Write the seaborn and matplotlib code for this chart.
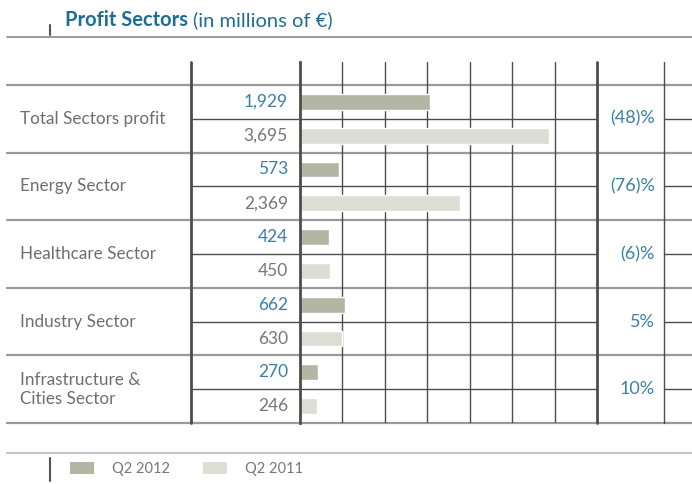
import pandas as pd
import numpy as np
import seaborn as sns
import matplotlib.pyplot as plt

sectors = ['Total Sectors profit', 'Energy Sector', 'Healthcare Sector',
           'Industry Sector', 'Infrastructure &\nCities Sector']
q2_2012 = [1929, 573, 424, 662, 270]
q2_2011 = [3695, 2369, 450, 630, 246]
changes = ['(48)%', '(76)%', '(6)%', '5%', '10%']
years = ['Q2 2012', 'Q2 2011']

blue = '#3a80a6'
title_blue = '#1f6d92'
grey_txt = '#767676'
line_dark = '#4d4d4d'
line_grey = '#9a9a9a'
colors = {'Q2 2012': '#b3b5a5', 'Q2 2011': '#dcded6'}

# long table, one row per (sector, year)
rows = []
for s, a, b in zip(sectors, q2_2012, q2_2011):
    rows.append({'row': s + ' 2012', 'year': 'Q2 2012', 'value': a})
    rows.append({'row': s + ' 2011', 'year': 'Q2 2011', 'value': b})
df = pd.DataFrame(rows)

sns.set_style('white')
plt.rcParams['font.family'] = ['Lato', 'DejaVu Sans']

W, H = 692, 484
fig = plt.figure(figsize=(W / 100, H / 100), dpi=100)

# layout in pixels
hdr_top, row_top, row_bot = 62, 85, 423
x_left, x_lab, x_bar0, x_bar1, x_pct, x_right = 191, 288, 300, 597, 664, 692
sub_h = (row_bot - row_top) / len(df)

# background axes in pixel coords for table frame and labels
bg = fig.add_axes([0, 0, 1, 1])
bg.set_xlim(0, W)
bg.set_ylim(H, 0)
bg.axis('off')

# bar axes
ax = fig.add_axes([x_bar0 / W, 1 - row_bot / H, (x_bar1 - x_bar0) / W, (row_bot - hdr_top) / H])
ax.patch.set_alpha(0)
sns.barplot(data=df, x='value', y='row', hue='year', dodge=False, width=0.47,
            palette=colors, orient='h', legend=False, ax=ax, saturation=1)
step = 630
ax.set_xlim(0, step * 7)
ax.set_ylim(len(df) - 0.5, -0.5 - (row_top - hdr_top) / sub_h)
ax.set_xticks(np.arange(step, step * 7, step))
ax.grid(axis='x', color=line_dark, linewidth=1)
ax.set_axisbelow(True)
ax.tick_params(left=False, bottom=False, labelleft=False, labelbottom=False)
ax.set_xlabel('')
ax.set_ylabel('')
for sp in ['top', 'bottom', 'right']:
    ax.spines[sp].set_visible(False)
ax.spines['left'].set_color(line_dark)
ax.spines['left'].set_linewidth(2)

# frame lines
bg.plot([7, W], [37, 37], color='#8a8a8a', lw=1.2)
bg.plot([50, 50], [25, 35], color='#555555', lw=1.5)
for x in [x_left, x_bar1]:
    bg.plot([x, x], [hdr_top, row_bot], color=line_dark, lw=2)
bg.plot([x_pct, x_pct], [hdr_top, row_bot], color=line_dark, lw=1)
for i in range(len(df) + 1):
    y = row_top + i * sub_h
    if i % 2 == 0:
        bg.plot([7, W], [y, y], color=line_grey, lw=1.6, zorder=0)
    else:
        bg.plot([x_left, x_bar1], [y, y], color=line_dark, lw=1, zorder=0)
        bg.plot([x_pct, W], [y, y], color=line_dark, lw=1, zorder=0)

# texts
for i, (s, a, b, c) in enumerate(zip(sectors, q2_2012, q2_2011, changes)):
    y0 = row_top + (2 * i + 0.5) * sub_h
    y1 = row_top + (2 * i + 1.5) * sub_h
    ym = row_top + (2 * i + 1) * sub_h
    bg.text(20, ym, s, ha='left', va='center', fontsize=12.3, color='#6e6e6e', linespacing=1.2)
    bg.text(x_lab, y0, f'{a:,}', ha='right', va='center', fontsize=12.5, color=blue)
    bg.text(x_lab, y1, f'{b:,}', ha='right', va='center', fontsize=12.5, color=grey_txt)
    bg.text(655, ym, c, ha='right', va='center', fontsize=13, color=blue)

# title
t1 = bg.text(65, 20, 'Profit Sectors', ha='left', va='center', fontsize=14.5,
             fontweight='bold', color=title_blue)
fig.canvas.draw()
bb = t1.get_window_extent()
bg.text(bb.x1 + 5, 20, '(in millions of €)', ha='left', va='center', fontsize=14.5,
        color=title_blue)

# legend
bg.plot([7, W], [453, 453], color='#c4c4c4', lw=1.5)
bg.plot([50, 50], [458, 481], color='#555555', lw=1.5)
for x0, lab in zip([70, 203], years):
    bg.add_patch(plt.Rectangle((x0, 462), 24, 12, color=colors[lab], lw=0))
    bg.text(x0 + 42, 469, lab, ha='left', va='center', fontsize=10.5, color=grey_txt)

fig.savefig('out.png', dpi=100)
